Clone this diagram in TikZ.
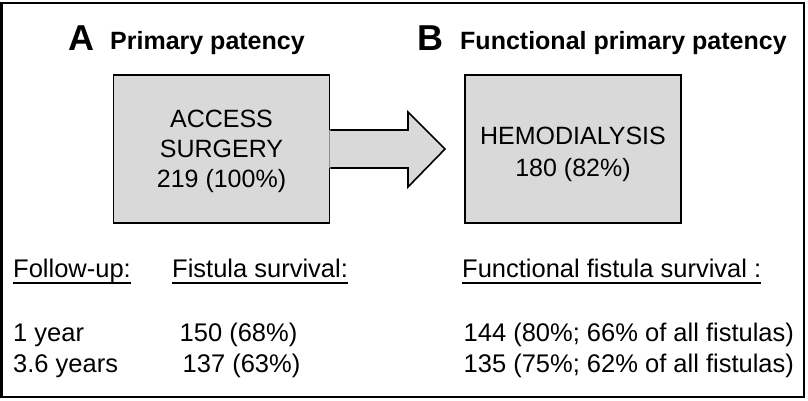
\documentclass[tikz,border=0pt]{standalone}
\usepackage{fontspec}
\setmainfont{Liberation Sans}
\usetikzlibrary{positioning,calc}
\definecolor{BoxGray}{RGB}{217,217,217}
\tikzset{
	stage/.style={draw=black,fill=BoxGray,line width=1.6bp,minimum width=216bp,minimum height=148bp,inner sep=0pt},
	stagetxt/.style={align=center,inner sep=0pt,font=\fontsize{25bp}{30bp}\selectfont},
	letter/.style={anchor=base west,inner sep=0pt,font=\fontsize{36bp}{36bp}\selectfont\bfseries},
	heading/.style={anchor=base west,inner sep=0pt,font=\fontsize{25bp}{28bp}\selectfont\bfseries},
	txt/.style={anchor=base west,inner sep=0pt,font=\fontsize{25.5bp}{28bp}\selectfont},
	uline/.style={line width=1.4bp},
	frame/.style={draw=black,line width=2bp},
}

\begin{document}
\begin{tikzpicture}[x=1bp,y=-1bp]
			\useasboundingbox (0,0) rectangle (808,400);
			\draw[frame] (1.5,3) rectangle (804,397);
			% headings
			\node[letter] (la) at (68,50) {A};
			\node[heading] (ha) at (110,49) {Primary patency};
			\node[letter] (lb) at (417.5,50) {B};
			\node[heading] (hb) at (460,49) {Functional primary patency};
			% boxes and arrow
			\node[stage] (surgery) at (221.5,149) {};
			\node[stage] (hd) at (573,149) {};
			\node[stagetxt] (surgerytxt) at ([yshift=-2.7bp]surgery.center) {ACCESS\\SURGERY\\219 (100\%)};
			\node[stagetxt,font=\fontsize{25bp}{32bp}\selectfont] (hdtxt) at ([yshift=-5.7bp]hd.center) {HEMODIALYSIS\\180 (82\%)};
			\coordinate (s1) at (surgery.east |- 0,130);
			\coordinate (s2) at (surgery.east |- 0,168);
			\fill[BoxGray] ([xshift=-1bp]s1) -- (408,130) -- (408,112) -- (445,149) -- (408,187) -- (408,168) -- ([xshift=-1bp]s2) -- cycle;
			\draw[line width=1.6bp,line join=miter] (s1) -- (408,130) -- (408,112) -- (445,149) -- (408,187) -- (408,168) -- (s2);
			% table
			\node[txt] (fu) at (13,277) {Follow-up:};
			\node[txt] (fs) at (172,277) {Fistula survival:};
			\node[txt] (ffs) at (462,277) {Functional fistula survival :};
			\foreach \n in {fu,fs,ffs}
				\draw[uline] ([yshift=-6bp]\n.base west) -- ([yshift=-6bp]\n.base east);
			\node[txt] (y1) at (13,341) {1 year};
			\node[txt] (y36) at (13,372) {3.6 years};
			\node[txt] (s1y) at (179.5,341) {150 (68\%)};
			\node[txt] (s36y) at (182.5,372) {137 (63\%)};
			\node[txt] (f1y) at (463.5,341) {144 (80\%; 66\% of all fistulas)};
			\node[txt] (f36y) at (463.5,372) {135 (75\%; 62\% of all fistulas)};
		\end{tikzpicture}
\end{document}
